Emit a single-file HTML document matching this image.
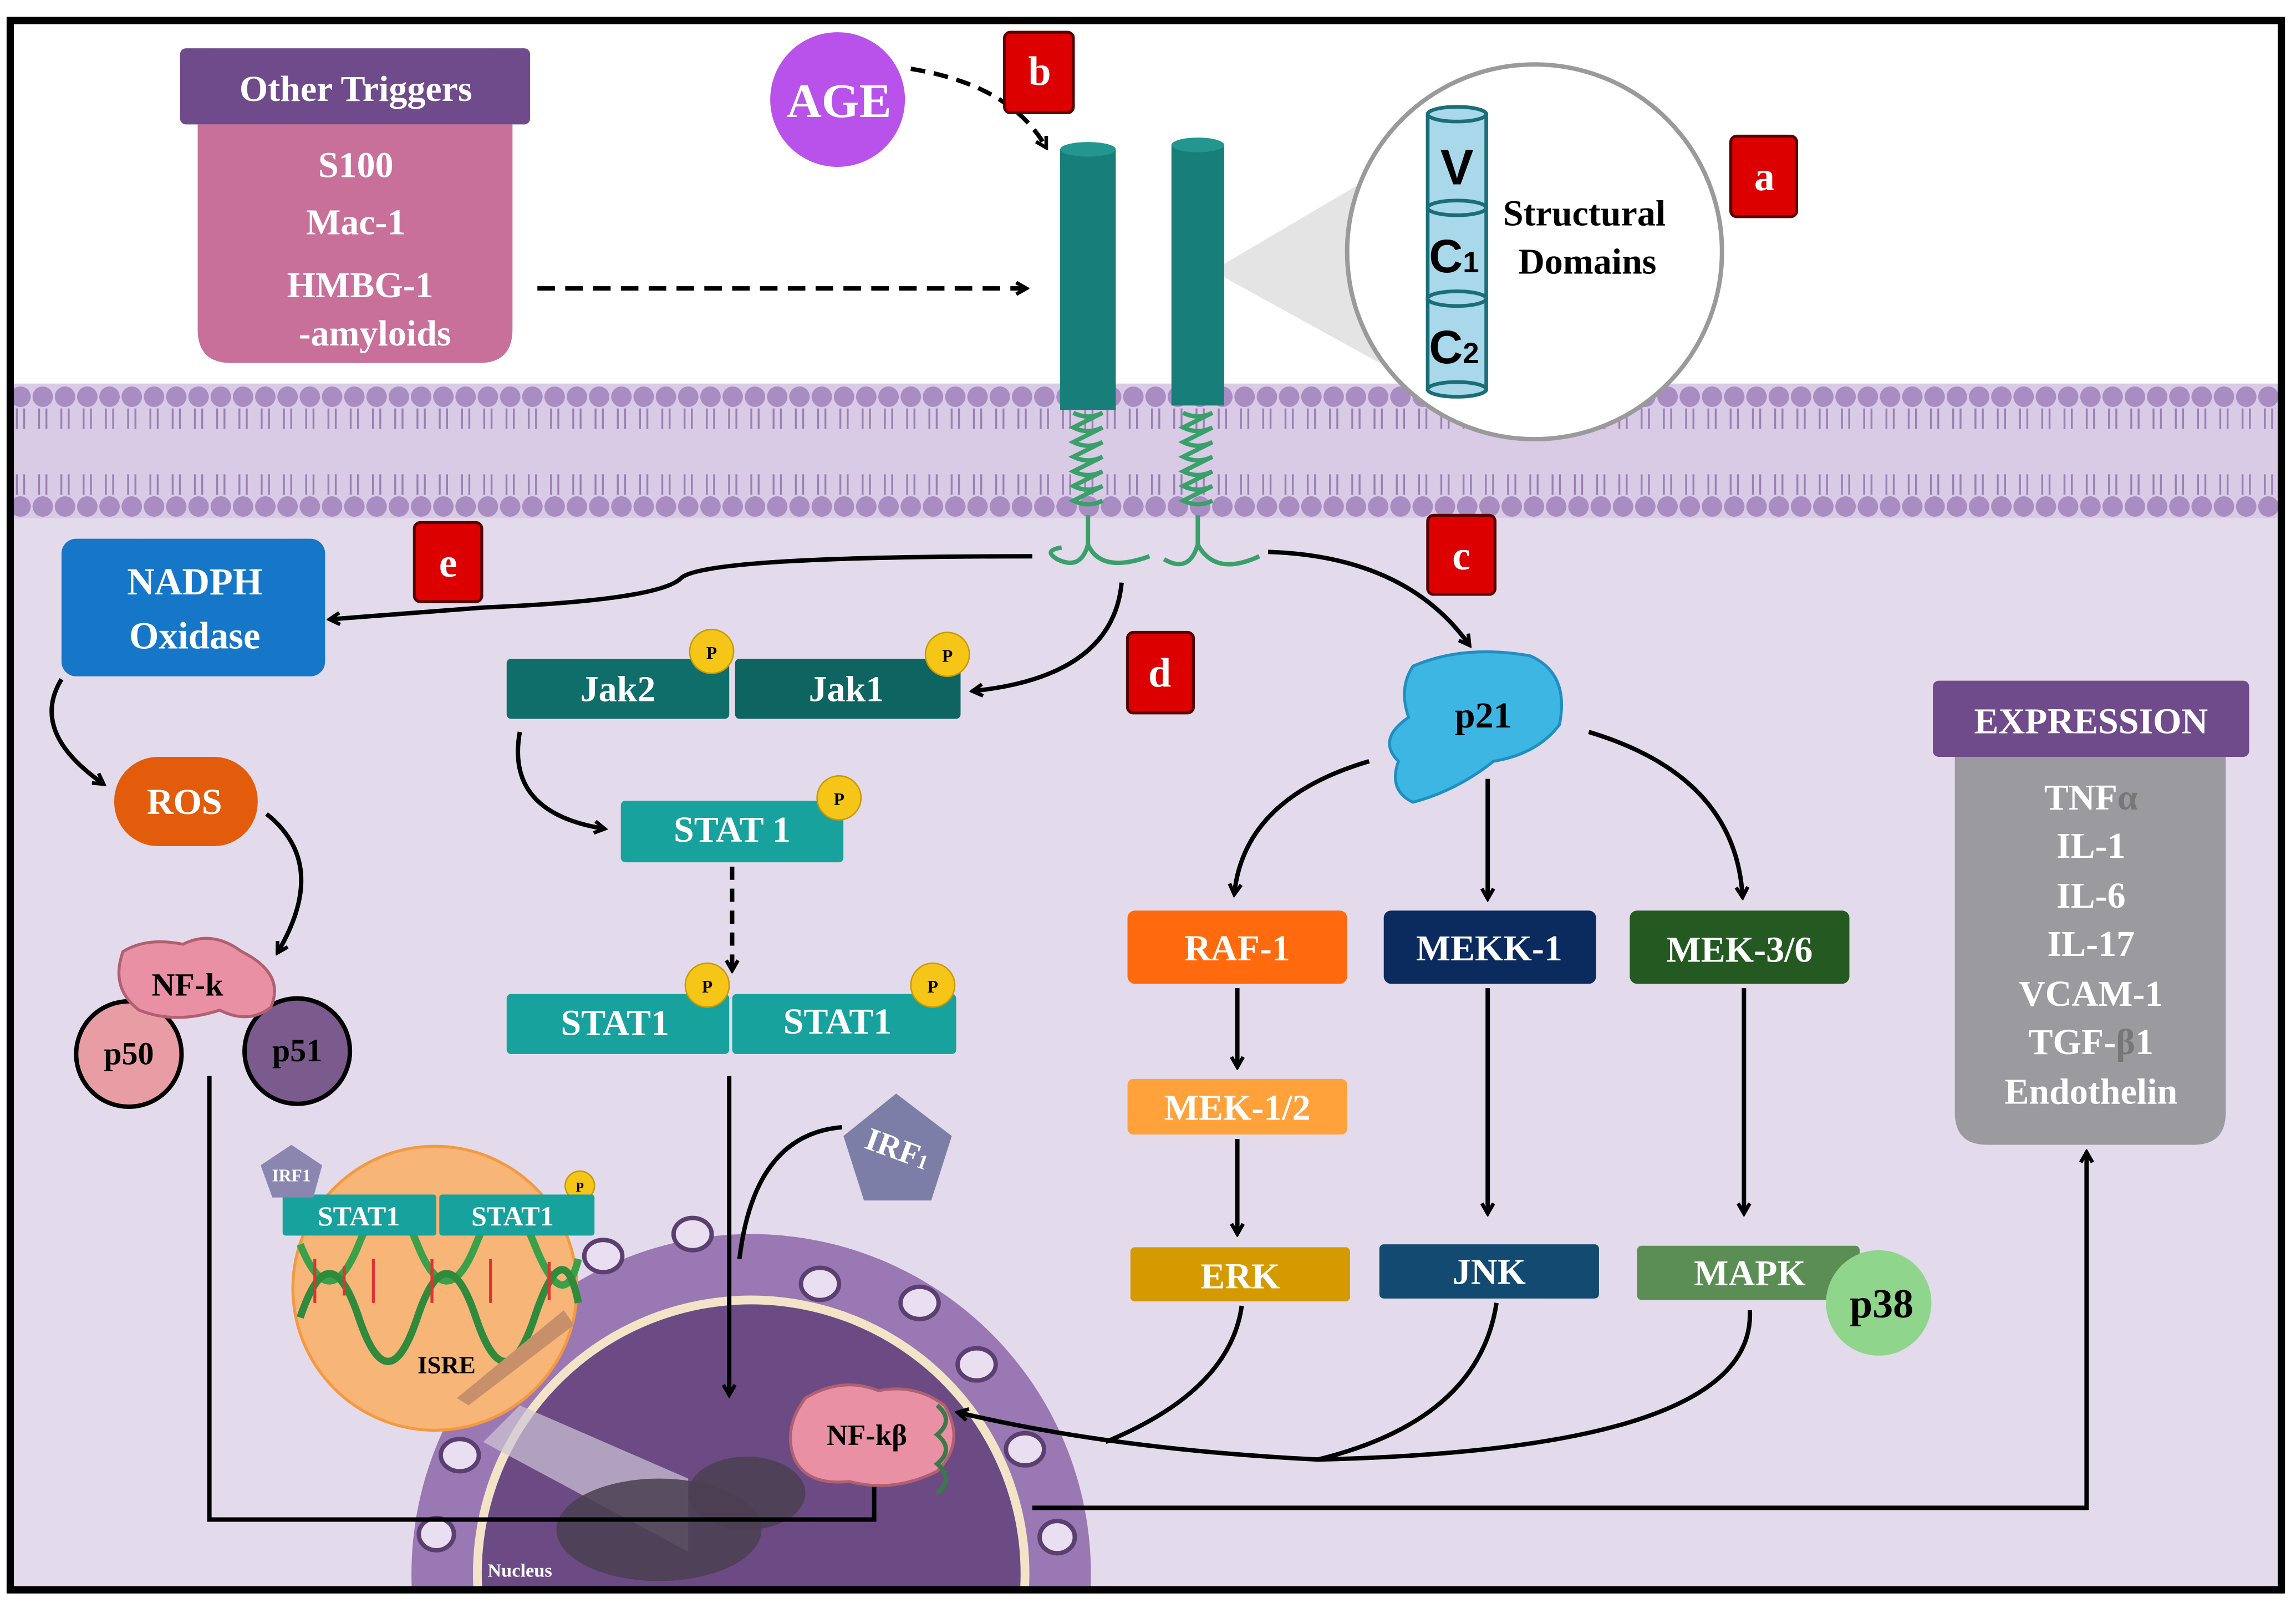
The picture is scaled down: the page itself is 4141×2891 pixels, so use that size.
<!DOCTYPE html>
<html><head><meta charset="utf-8"><style>
html,body{margin:0;padding:0;background:#fff;width:4141px;height:2891px;overflow:hidden;}
svg{display:block;}
text{font-family:"Liberation Serif",serif;font-weight:bold;}
</style></head><body>
<svg width="4141" height="2891" viewBox="0 0 1568 1095" preserveAspectRatio="none" xmlns="http://www.w3.org/2000/svg">
<defs>
<marker id="ah" markerWidth="10" markerHeight="10" refX="7" refY="5" orient="auto" markerUnits="userSpaceOnUse">
<path d="M1,1 L8,5 L1,9" fill="none" stroke="#000" stroke-width="2.5"/></marker>
<clipPath id="frame"><rect x="7" y="14" width="1551" height="1072"/></clipPath>
</defs>
<rect x="0" y="0" width="1568" height="1095" fill="#fff"/>
<g clip-path="url(#frame)">
<rect x="7" y="340" width="1551" height="750" fill="#e3dbeb"/>
<rect x="7" y="262" width="1551" height="92" fill="#d9cbe6"/>
</g>
<g id="memb" clip-path="url(#frame)"></g>

<!-- Nucleus -->
<g clip-path="url(#frame)">
<circle cx="513" cy="1075" r="232" fill="#9a78b3"/>
<circle cx="513" cy="1075" r="190" fill="#f3e4c8"/>
<circle cx="513" cy="1075" r="184" fill="#6c4b85"/>
<g fill="#e9dff0" stroke="#5a3f70" stroke-width="3">
<ellipse cx="323" cy="893" rx="13" ry="11"/><ellipse cx="412" cy="858" rx="13" ry="11"/>
<ellipse cx="473" cy="843" rx="13" ry="11"/><ellipse cx="560" cy="877" rx="13" ry="11"/>
<ellipse cx="628" cy="890" rx="13" ry="11"/><ellipse cx="667" cy="932" rx="13" ry="11"/>
<ellipse cx="700" cy="990" rx="13" ry="11"/><ellipse cx="314" cy="994" rx="13" ry="11"/>
<ellipse cx="298" cy="1048" rx="12" ry="11"/><ellipse cx="722" cy="1050" rx="12" ry="11"/>
</g>
<polygon points="355,960 470,1010 470,1060 330,985" fill="#cfc6d6" opacity="0.7"/>
<ellipse cx="450" cy="1045" rx="70" ry="35" fill="#4a4050" opacity="0.85"/>
<ellipse cx="510" cy="1020" rx="40" ry="25" fill="#4a4050" opacity="0.85"/>
<text x="355" y="1077" font-size="13" fill="#fff" text-anchor="middle">Nucleus</text>
</g>

<!-- Other triggers -->
<path d="M135,85 H350 V225 Q350,248 327,248 H158 Q135,248 135,225 Z" fill="#c8709a"/>
<rect x="123" y="33" width="239" height="52" rx="4" fill="#6f4b8b"/>
<g fill="#fff" font-size="25" text-anchor="middle">
<text x="243" y="69">Other Triggers</text>
<text x="243" y="121">S100</text>
<text x="243" y="160">Mac-1</text>
<text x="246" y="203">HMBG-1</text>
<text x="256" y="236">-amyloids</text>
</g>
<line x1="367" y1="197" x2="700" y2="197" stroke="#000" stroke-width="3" stroke-dasharray="12,7" marker-end="url(#ah)"/>

<!-- AGE -->
<circle cx="572" cy="68" r="46" fill="#b852ea"/>
<text x="573" y="80" font-size="33" fill="#fff" text-anchor="middle">AGE</text>
<path d="M622,47 Q690,58 714,100" fill="none" stroke="#000" stroke-width="3" stroke-dasharray="10,6" marker-end="url(#ah)"/>

<!-- zoom circle -->
<polygon points="828,185 955,110 955,255" fill="#e4e4e4"/>
<circle cx="1048" cy="172" r="128" fill="#fff" stroke="#9a9a9a" stroke-width="3"/>
<g stroke="#1b6d76" stroke-width="2.5" fill="#a8d8ea">
<rect x="975" y="78" width="40" height="64"/><ellipse cx="995" cy="78" rx="20" ry="5"/>
<rect x="975" y="142" width="40" height="62"/><ellipse cx="995" cy="142" rx="20" ry="5"/>
<rect x="975" y="204" width="40" height="62"/><ellipse cx="995" cy="204" rx="20" ry="5"/>
<ellipse cx="995" cy="266" rx="20" ry="5"/>
</g>
<g fill="#000" text-anchor="middle">
<text x="995" y="126" font-size="34" style="font-family:'Liberation Sans',sans-serif">V</text>
<text x="993" y="186" font-size="32" style="font-family:'Liberation Sans',sans-serif">C<tspan font-size="20">1</tspan></text>
<text x="993" y="248" font-size="32" style="font-family:'Liberation Sans',sans-serif">C<tspan font-size="20">2</tspan></text>
</g>
<text x="1082" y="154" font-size="25" fill="#000" text-anchor="middle">Structural</text>
<text x="1084" y="187" font-size="25" fill="#000" text-anchor="middle">Domains</text>

<!-- receptors -->
<g fill="#177e7a">
<rect x="724" y="102" width="38" height="178"/><ellipse cx="743" cy="102" rx="19" ry="5" fill="#22968f"/>
<rect x="800" y="99" width="36" height="178"/><ellipse cx="818" cy="99" rx="18" ry="5" fill="#22968f"/>
</g>
<g fill="none" stroke="#3aa06a" stroke-width="3">
<path d="M733,282 q10,5 20,0 q-10,5 -20,10 q10,5 20,0 q-10,5 -20,10 q10,5 20,0 q-10,5 -20,10 q10,5 20,0 q-10,5 -20,10 q10,5 20,0 q-10,5 -20,10 q10,5 20,0 q-10,5 -20,10 q10,5 20,0"/>
<path d="M808,282 q10,5 20,0 q-10,5 -20,10 q10,5 20,0 q-10,5 -20,10 q10,5 20,0 q-10,5 -20,10 q10,5 20,0 q-10,5 -20,10 q10,5 20,0 q-10,5 -20,10 q10,5 20,0 q-10,5 -20,10 q10,5 20,0"/>
<path d="M743,352 V372 Q738,390 722,382 Q712,376 725,374 M743,372 Q752,392 785,380"/>
<path d="M818,352 V372 Q812,392 795,382 M818,372 Q830,394 860,380"/>
</g>

<!-- red labels -->
<g stroke="#5a0000" stroke-width="2" fill="#dd0000">
<rect x="686" y="22" width="47" height="55" rx="4"/>
<rect x="1182" y="93" width="45" height="55" rx="4"/>
<rect x="975" y="352" width="46" height="54" rx="4"/>
<rect x="770" y="432" width="45" height="55" rx="4"/>
<rect x="283" y="357" width="46" height="54" rx="4"/>
</g>
<g fill="#fff" font-size="28" text-anchor="middle">
<text x="710" y="58">b</text><text x="1205" y="130">a</text><text x="998" y="389">c</text>
<text x="792" y="469">d</text><text x="306" y="394">e</text>
</g>

<!-- NADPH branch -->
<path d="M705,380 Q480,380 465,395 Q450,410 330,415 L226,423" fill="none" stroke="#000" stroke-width="3" marker-end="url(#ah)"/>
<rect x="42" y="368" width="180" height="94" rx="10" fill="#1677c8"/>
<text x="133" y="406" font-size="26" fill="#fff" text-anchor="middle">NADPH</text>
<text x="133" y="443" font-size="26" fill="#fff" text-anchor="middle">Oxidase</text>
<path d="M42,464 Q20,500 70,535" fill="none" stroke="#000" stroke-width="3" marker-end="url(#ah)"/>
<rect x="78" y="517" width="98" height="61" rx="30" fill="#e25c0b"/>
<text x="126" y="556" font-size="25" fill="#fff" text-anchor="middle">ROS</text>
<path d="M182,556 Q225,590 190,650" fill="none" stroke="#000" stroke-width="3" marker-end="url(#ah)"/>
<circle cx="88" cy="720" r="36" fill="#e89ca3" stroke="#000" stroke-width="3"/>
<circle cx="203" cy="718" r="36" fill="#7b5a8d" stroke="#000" stroke-width="3"/>
<path d="M84,650 Q100,640 125,645 Q145,635 165,650 Q195,665 185,688 Q170,700 150,690 Q120,700 95,690 Q75,675 84,650Z" fill="#e990a5" stroke="#b06070" stroke-width="2"/>
<text x="128" y="680" font-size="22" fill="#000" text-anchor="middle">NF-k</text>
<text x="88" y="727" font-size="22" fill="#000" text-anchor="middle">p50</text>
<text x="203" y="725" font-size="22" fill="#000" text-anchor="middle">p51</text>
<path d="M143,735 V1038 H597 V1005" fill="none" stroke="#000" stroke-width="3" marker-end="url(#ah)"/>

<!-- JAK STAT -->
<path d="M766,398 Q760,462 665,472" fill="none" stroke="#000" stroke-width="3" marker-end="url(#ah)"/>
<rect x="346" y="450" width="152" height="41" rx="3" fill="#0f6e6a"/>
<rect x="502" y="450" width="154" height="41" rx="3" fill="#0e6460"/>
<text x="422" y="479" font-size="25" fill="#fff" text-anchor="middle">Jak2</text>
<text x="578" y="479" font-size="25" fill="#fff" text-anchor="middle">Jak1</text>
<path d="M355,500 Q345,555 412,566" fill="none" stroke="#000" stroke-width="3" marker-end="url(#ah)"/>
<rect x="424" y="547" width="152" height="42" rx="3" fill="#17a29e"/>
<text x="500" y="575" font-size="25" fill="#fff" text-anchor="middle">STAT 1</text>
<line x1="500" y1="592" x2="500" y2="662" stroke="#000" stroke-width="3" stroke-dasharray="9,6" marker-end="url(#ah)"/>
<rect x="346" y="679" width="152" height="41" rx="3" fill="#17a29e"/>
<rect x="500" y="679" width="153" height="41" rx="3" fill="#17a29e"/>
<text x="420" y="707" font-size="25" fill="#fff" text-anchor="middle">STAT1</text>
<text x="572" y="706" font-size="25" fill="#fff" text-anchor="middle">STAT1</text>
<line x1="498" y1="735" x2="498" y2="952" stroke="#000" stroke-width="3" marker-end="url(#ah)"/>
<g fill="#f5c518" stroke="#c99a00" stroke-width="1">
<circle cx="486" cy="445" r="15"/><circle cx="647" cy="447" r="15"/><circle cx="573" cy="545" r="15"/>
<circle cx="483" cy="673" r="15"/><circle cx="637" cy="673" r="15"/>
<circle cx="288" cy="810" r="10"/><circle cx="396" cy="810" r="10"/>
</g>
<g fill="#000" font-size="12" text-anchor="middle">
<text x="486" y="450">P</text><text x="647" y="452">P</text><text x="573" y="550">P</text>
<text x="483" y="678">P</text><text x="637" y="678">P</text>
<text x="288" y="814" font-size="9">P</text><text x="396" y="814" font-size="9">P</text>
</g>

<!-- IRF1 -->
<path d="M505,860 Q515,775 575,770" fill="none" stroke="#000" stroke-width="3"/>
<polygon points="612,747 650,776 636,820 590,820 576,776" fill="#7d7ea8"/>
<text x="613" y="792" font-size="22" fill="#fff" text-anchor="middle" transform="rotate(20 613 785)">IRF<tspan font-size="14">1</tspan></text>

<!-- ISRE -->
<circle cx="297" cy="880" r="97" fill="#f7b577" stroke="#f39a40" stroke-width="2"/>
<g stroke-width="5" fill="none">
<path d="M205,850 Q225,900 245,850 T285,850 T325,850 T365,850 T395,860" stroke="#3aa04a"/>
<path d="M205,900 Q225,840 245,900 T285,900 T325,900 T365,900 T395,890" stroke="#2f8a3c"/>
</g>
<g stroke="#d33" stroke-width="2">
<line x1="215" y1="860" x2="215" y2="890"/><line x1="235" y1="865" x2="235" y2="885"/>
<line x1="255" y1="860" x2="255" y2="890"/><line x1="295" y1="860" x2="295" y2="890"/>
<line x1="335" y1="860" x2="335" y2="890"/><line x1="375" y1="862" x2="375" y2="888"/>
</g>
<polygon points="312,955 385,895 392,905 320,960" fill="#c8906a"/>
<rect x="193" y="816" width="105" height="28" rx="2" fill="#17a29e"/>
<rect x="300" y="816" width="106" height="28" rx="2" fill="#17a29e"/>
<text x="245" y="837" font-size="19" fill="#fff" text-anchor="middle">STAT1</text>
<text x="350" y="837" font-size="19" fill="#fff" text-anchor="middle">STAT1</text>
<polygon points="199,782 220,796 214,818 186,818 178,796" fill="#8a86b0"/>
<text x="199" y="807" font-size="12" fill="#fff" text-anchor="middle">IRF1</text>
<text x="305" y="938" font-size="17" fill="#000" text-anchor="middle">ISRE</text>

<!-- p21 branch -->
<path d="M866,377 Q960,380 1003,440" fill="none" stroke="#000" stroke-width="3" marker-end="url(#ah)"/>
<path d="M965,455 Q1000,440 1045,448 Q1072,460 1065,495 Q1050,515 1020,520 Q995,540 965,548 Q948,540 955,520 Q940,505 962,490 Q955,470 965,455Z" fill="#3db6e3" stroke="#1f8fc0" stroke-width="2"/>
<text x="1013" y="497" font-size="25" fill="#000" text-anchor="middle">p21</text>
<path d="M935,520 Q850,545 843,610" fill="none" stroke="#000" stroke-width="3" marker-end="url(#ah)"/>
<line x1="1016" y1="532" x2="1016" y2="613" stroke="#000" stroke-width="3" marker-end="url(#ah)"/>
<path d="M1085,500 Q1185,530 1190,612" fill="none" stroke="#000" stroke-width="3" marker-end="url(#ah)"/>
<rect x="770" y="622" width="150" height="50" rx="5" fill="#ff6a0f"/>
<rect x="945" y="622" width="145" height="50" rx="5" fill="#0b2a5e"/>
<rect x="1113" y="622" width="150" height="50" rx="5" fill="#245a22"/>
<text x="845" y="656" font-size="25" fill="#fff" text-anchor="middle">RAF-1</text>
<text x="1017" y="656" font-size="25" fill="#fff" text-anchor="middle">MEKK-1</text>
<text x="1188" y="657" font-size="25" fill="#fff" text-anchor="middle">MEK-3/6</text>
<line x1="845" y1="675" x2="845" y2="728" stroke="#000" stroke-width="3" marker-end="url(#ah)"/>
<rect x="770" y="737" width="150" height="38" rx="4" fill="#ffa23c"/>
<text x="845" y="765" font-size="25" fill="#fff" text-anchor="middle">MEK-1/2</text>
<line x1="845" y1="778" x2="845" y2="842" stroke="#000" stroke-width="3" marker-end="url(#ah)"/>
<line x1="1016" y1="675" x2="1016" y2="828" stroke="#000" stroke-width="3" marker-end="url(#ah)"/>
<line x1="1191" y1="675" x2="1191" y2="828" stroke="#000" stroke-width="3" marker-end="url(#ah)"/>
<rect x="772" y="852" width="150" height="37" rx="3" fill="#d59a00"/>
<rect x="942" y="850" width="150" height="37" rx="3" fill="#124a72"/>
<rect x="1118" y="851" width="152" height="37" rx="3" fill="#5b8e54"/>
<text x="847" y="880" font-size="25" fill="#fff" text-anchor="middle">ERK</text>
<text x="1017" y="877" font-size="25" fill="#fff" text-anchor="middle">JNK</text>
<text x="1195" y="878" font-size="25" fill="#fff" text-anchor="middle">MAPK</text>
<circle cx="1283" cy="890" r="36" fill="#8fd58b"/>
<text x="1285" y="900" font-size="28" fill="#000" text-anchor="middle">p38</text>
<g fill="none" stroke="#000" stroke-width="3">
<path d="M848,892 Q840,950 755,985"/>
<path d="M1022,890 Q1010,970 900,997"/>
<path d="M1195,895 Q1200,990 900,997 Q760,990 655,965" marker-end="url(#ah)"/>
</g>

<!-- NF-kB in nucleus -->
<path d="M550,955 Q575,940 600,950 Q625,945 645,960 Q660,985 640,1005 Q610,1020 580,1012 Q550,1015 542,995 Q535,975 550,955Z" fill="#e990a5" stroke="#b06070" stroke-width="2"/>
<path d="M640,960 q12,10 0,20 q12,10 0,20 q12,10 0,20" fill="none" stroke="#3a7a4a" stroke-width="3"/>
<text x="592" y="987" font-size="20" fill="#000" text-anchor="middle">NF-kβ</text>
<path d="M705,1030 H1425 V788" fill="none" stroke="#000" stroke-width="3" marker-end="url(#ah)"/>

<!-- Expression -->
<path d="M1335,517 H1520 V760 Q1520,782 1498,782 H1357 Q1335,782 1335,760 Z" fill="#9b9a9e"/>
<rect x="1320" y="465" width="216" height="52" rx="4" fill="#6f4b8b"/>
<g fill="#fff" font-size="25" text-anchor="middle">
<text x="1428" y="501">EXPRESSION</text>
<text x="1428" y="553">TNF<tspan fill="#777">α</tspan></text>
<text x="1428" y="586">IL-1</text>
<text x="1428" y="620">IL-6</text>
<text x="1428" y="653">IL-17</text>
<text x="1428" y="687">VCAM-1</text>
<text x="1428" y="720">TGF-<tspan fill="#777">β</tspan>1</text>
<text x="1428" y="754">Endothelin</text>
</g>

<!-- frame -->
<rect x="7" y="14" width="1551" height="1072" fill="none" stroke="#000" stroke-width="5"/>
</svg>
<script>
(function(){
var ns="http://www.w3.org/2000/svg",g=document.getElementById("memb");
function el(t,a){var e=document.createElementNS(ns,t);for(var k in a)e.setAttribute(k,a[k]);g.appendChild(e);return e;}
for(var x=14;x<1560;x+=15.2){
 el("circle",{cx:x,cy:271,r:7,fill:"#a98dc2"});
 el("circle",{cx:x,cy:346,r:7,fill:"#a98dc2"});
 el("path",{d:"M"+(x-2.5)+",279 v14 M"+(x+2.5)+",279 v14 M"+(x-2.5)+",324 v14 M"+(x+2.5)+",324 v14",stroke:"#9a80b4","stroke-width":1.3,fill:"none"});
}
})();
</script>
</body></html>
